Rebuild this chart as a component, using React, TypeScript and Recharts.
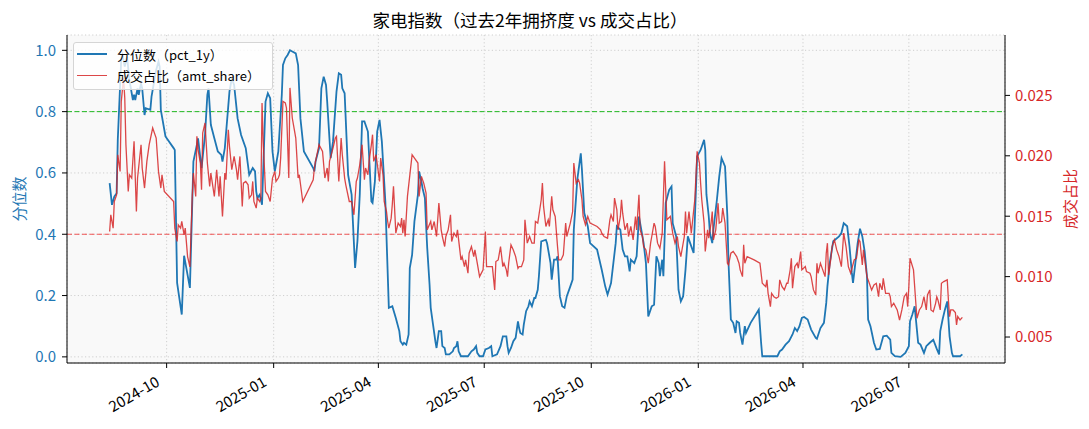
import { LineChart, Line, XAxis, YAxis, CartesianGrid, ReferenceLine } from 'recharts';

// 分位数（pct_1y）—— 日期与数值按月对齐
const pctDates = [
  '2024-08-13','2024-08-15','2024-08-17','2024-08-19','2024-08-20','2024-08-23','2024-08-24','2024-08-26','2024-08-28','2024-08-30',
  '2024-09-02','2024-09-03','2024-09-04','2024-09-06','2024-09-07','2024-09-09','2024-09-10','2024-09-12','2024-09-13','2024-09-17','2024-09-18','2024-09-22','2024-09-24','2024-09-25','2024-09-26','2024-09-30',
  '2024-10-07','2024-10-08','2024-10-10','2024-10-14','2024-10-16','2024-10-21','2024-10-24','2024-10-27','2024-10-28','2024-10-31',
  '2024-11-03','2024-11-05','2024-11-06','2024-11-08','2024-11-11','2024-11-14','2024-11-17','2024-11-18','2024-11-20','2024-11-24','2024-11-26','2024-11-28',
  '2024-12-01','2024-12-04','2024-12-08','2024-12-11','2024-12-14','2024-12-16','2024-12-17','2024-12-18','2024-12-20','2024-12-22','2024-12-25','2024-12-27','2024-12-29','2024-12-31',
  '2025-01-02','2025-01-03','2025-01-05','2025-01-08','2025-01-09','2025-01-11','2025-01-13','2025-01-15','2025-01-17','2025-01-20','2025-01-22','2025-01-24','2025-01-27',
  '2025-02-04','2025-02-05','2025-02-06','2025-02-09','2025-02-11','2025-02-13','2025-02-15','2025-02-16','2025-02-19','2025-02-21','2025-02-24','2025-02-26','2025-02-28',
  '2025-03-01','2025-03-03','2025-03-06','2025-03-07','2025-03-09','2025-03-12','2025-03-14','2025-03-16','2025-03-18','2025-03-20','2025-03-23','2025-03-26','2025-03-27','2025-03-29','2025-03-31',
  '2025-04-02','2025-04-04','2025-04-07','2025-04-10','2025-04-13','2025-04-16','2025-04-19','2025-04-20','2025-04-22','2025-04-23','2025-04-25','2025-04-27','2025-04-28','2025-04-30',
  '2025-05-02','2025-05-05','2025-05-06','2025-05-08','2025-05-09','2025-05-11','2025-05-12','2025-05-13','2025-05-15','2025-05-16','2025-05-18','2025-05-20','2025-05-21','2025-05-23','2025-05-25','2025-05-26','2025-05-28','2025-05-29',
  '2025-06-01','2025-06-04','2025-06-05','2025-06-07','2025-06-08','2025-06-09','2025-06-11','2025-06-17','2025-06-20','2025-06-22','2025-06-24','2025-06-25','2025-06-27','2025-06-30',
  '2025-07-02','2025-07-05','2025-07-07','2025-07-08','2025-07-12','2025-07-15','2025-07-17','2025-07-20','2025-07-21','2025-07-22','2025-07-24','2025-07-26','2025-07-28','2025-07-30','2025-07-31',
  '2025-08-01','2025-08-03','2025-08-04','2025-08-06','2025-08-08','2025-08-09','2025-08-11','2025-08-13','2025-08-14','2025-08-16','2025-08-17','2025-08-19','2025-08-23','2025-08-24','2025-08-27','2025-08-28','2025-08-30',
  '2025-09-01','2025-09-02','2025-09-04','2025-09-06','2025-09-08','2025-09-10','2025-09-13','2025-09-15','2025-09-16','2025-09-19','2025-09-22','2025-09-23','2025-09-25','2025-09-28','2025-09-30',
  '2025-10-06','2025-10-10','2025-10-13','2025-10-15','2025-10-18','2025-10-20','2025-10-22','2025-10-23','2025-10-26','2025-10-28','2025-10-30',
  '2025-11-01','2025-11-03','2025-11-04','2025-11-07','2025-11-09','2025-11-11','2025-11-13','2025-11-15','2025-11-17','2025-11-19','2025-11-21','2025-11-22','2025-11-24','2025-11-26','2025-11-28','2025-11-29',
  '2025-12-01','2025-12-02','2025-12-04','2025-12-07','2025-12-09','2025-12-10','2025-12-13','2025-12-15','2025-12-17','2025-12-19','2025-12-21','2025-12-23','2025-12-25','2025-12-28','2025-12-31',
  '2026-01-03','2026-01-06','2026-01-07','2026-01-08','2026-01-10','2026-01-11','2026-01-13','2026-01-14','2026-01-17','2026-01-19','2026-01-21','2026-01-24','2026-01-26','2026-01-27','2026-01-29','2026-01-31',
  '2026-02-02','2026-02-03','2026-02-05','2026-02-06','2026-02-08','2026-02-10','2026-02-11','2026-02-15','2026-02-22','2026-02-24','2026-02-25',
  '2026-03-10','2026-03-12','2026-03-14','2026-03-17','2026-03-20','2026-03-23','2026-03-25','2026-03-27','2026-03-29','2026-03-31',
  '2026-04-02','2026-04-05','2026-04-08','2026-04-12','2026-04-13','2026-04-16','2026-04-19','2026-04-21','2026-04-22','2026-04-24','2026-04-27',
  '2026-05-02','2026-05-04','2026-05-06','2026-05-09','2026-05-11','2026-05-13','2026-05-14','2026-05-16','2026-05-18','2026-05-20','2026-05-22','2026-05-24','2026-05-26','2026-05-27','2026-05-29',
  '2026-06-01','2026-06-03','2026-06-06','2026-06-09','2026-06-12','2026-06-15','2026-06-16','2026-06-19','2026-06-24','2026-06-28',
  '2026-07-01','2026-07-02','2026-07-04','2026-07-06','2026-07-09','2026-07-11','2026-07-14','2026-07-16','2026-07-19','2026-07-22','2026-07-25','2026-07-27','2026-07-28','2026-07-30',
  '2026-08-01','2026-08-03','2026-08-05','2026-08-07','2026-08-08','2026-08-14','2026-08-16',
];
const pctValues = [
  0.567,0.496,0.523,0.534,0.708,0.974,0.985,0.947,0.979,0.903,
  0.838,0.855,0.838,0.876,0.855,0.892,0.876,0.789,0.811,0.806,0.849,0.936,0.963,0.947,0.806,0.719,
  0.681,0.675,0.241,0.138,0.330,0.225,0.637,0.692,0.713,0.616,
  0.724,0.855,0.876,0.757,0.713,0.670,0.659,0.637,0.681,0.865,0.909,0.887,
  0.778,0.724,0.681,0.594,0.616,0.605,0.540,0.518,0.529,0.496,0.833,0.860,0.844,0.670,
  0.605,0.626,0.670,0.855,0.952,0.974,0.985,1.0,0.996,0.990,0.952,0.778,0.670,
  0.616,0.605,0.637,0.681,0.876,0.914,0.887,0.833,0.648,0.702,0.865,0.925,0.920,
  0.876,0.860,0.594,0.572,0.529,0.290,0.377,0.529,0.768,0.768,0.735,0.507,0.502,0.572,0.735,
  0.773,0.702,0.507,0.160,0.165,0.127,0.084,0.051,0.040,0.046,0.040,0.073,0.290,0.333,
  0.442,0.529,0.605,0.572,0.550,0.518,0.431,0.355,0.236,0.160,0.105,0.051,0.029,0.084,0.084,0.035,0.029,0.008,
  0.008,0.018,0.029,0.035,0.051,0.018,0.002,0.002,0.018,0.024,0.035,0.013,0.002,0.002,
  0.024,0.029,0.035,0.002,0.008,0.035,0.067,0.067,0.035,0.013,0.029,0.051,0.062,0.116,0.094,
  0.078,0.073,0.105,0.149,0.165,0.181,0.165,0.192,0.192,0.219,0.263,0.377,0.382,0.371,0.306,0.252,0.317,
  0.317,0.328,0.198,0.165,0.160,0.198,0.230,0.252,0.415,0.578,0.664,0.610,0.469,0.426,0.371,
  0.350,0.284,0.230,0.203,0.241,0.306,0.371,0.426,0.415,0.350,0.328,
  0.328,0.279,0.317,0.306,0.328,0.458,0.415,0.371,0.306,0.132,0.154,0.165,0.170,0.328,0.306,0.263,
  0.317,0.263,0.502,0.545,0.556,0.436,0.393,0.219,0.181,0.198,0.284,0.393,0.371,0.339,0.654,
  0.675,0.708,0.675,0.530,0.458,0.404,0.371,0.415,0.512,0.588,0.648,0.621,0.458,0.306,0.122,0.111,
  0.078,0.116,0.111,0.078,0.040,0.100,0.078,0.111,0.154,0.046,0.002,
  0.002,0.018,0.024,0.040,0.051,0.073,0.094,0.084,0.100,0.127,
  0.130,0.122,0.089,0.062,0.059,0.094,0.111,0.176,0.230,0.306,0.377,
  0.393,0.404,0.436,0.426,0.360,0.274,0.241,0.306,0.371,0.418,0.393,0.344,0.263,0.122,0.100,
  0.046,0.024,0.026,0.067,0.069,0.056,0.013,0.002,0.000,0.013,
  0.035,0.116,0.138,0.165,0.046,0.040,0.013,0.035,0.046,0.056,0.026,0.008,0.084,0.122,
  0.154,0.181,0.067,0.013,0.002,0.002,0.008,
];

// 成交占比（amt_share）
const shareDates = [
  '2024-08-13','2024-08-14','2024-08-16','2024-08-17','2024-08-19','2024-08-20','2024-08-22','2024-08-23','2024-08-25','2024-08-26','2024-08-27','2024-08-29','2024-08-30',
  '2024-09-01','2024-09-03','2024-09-05','2024-09-06','2024-09-09','2024-09-10','2024-09-12','2024-09-14','2024-09-16','2024-09-19','2024-09-22','2024-09-24','2024-09-26','2024-09-27','2024-09-29',
  '2024-10-07','2024-10-08','2024-10-10','2024-10-11','2024-10-13','2024-10-14','2024-10-16','2024-10-17','2024-10-19','2024-10-21','2024-10-23','2024-10-24','2024-10-26','2024-10-27','2024-10-28','2024-10-30','2024-10-31',
  '2024-11-01','2024-11-03','2024-11-05','2024-11-07','2024-11-08','2024-11-11','2024-11-12','2024-11-13','2024-11-15','2024-11-16','2024-11-18','2024-11-20','2024-11-21','2024-11-23','2024-11-24','2024-11-26','2024-11-28','2024-11-30',
  '2024-12-01','2024-12-03','2024-12-05','2024-12-06','2024-12-08','2024-12-10','2024-12-11','2024-12-13','2024-12-14','2024-12-15','2024-12-17','2024-12-18','2024-12-20','2024-12-21','2024-12-22','2024-12-23','2024-12-25','2024-12-27','2024-12-29','2024-12-31',
  '2025-01-02','2025-01-03','2025-01-05','2025-01-06','2025-01-07','2025-01-09','2025-01-11','2025-01-12','2025-01-14','2025-01-15','2025-01-17','2025-01-19','2025-01-20','2025-01-22','2025-01-23','2025-01-26',
  '2025-02-04','2025-02-05','2025-02-06','2025-02-09','2025-02-12','2025-02-14','2025-02-16','2025-02-17','2025-02-18','2025-02-21','2025-02-23','2025-02-24','2025-02-26','2025-02-28',
  '2025-03-01','2025-03-03','2025-03-04','2025-03-07','2025-03-09','2025-03-11','2025-03-13','2025-03-14','2025-03-16','2025-03-17','2025-03-18','2025-03-20','2025-03-21','2025-03-23','2025-03-24','2025-03-26','2025-03-27','2025-03-28','2025-03-30',
  '2025-04-02','2025-04-03','2025-04-05','2025-04-06','2025-04-08','2025-04-09','2025-04-10','2025-04-12','2025-04-13','2025-04-14','2025-04-16','2025-04-18','2025-04-20','2025-04-21','2025-04-22','2025-04-23','2025-04-24','2025-04-26','2025-04-30',
  '2025-05-05','2025-05-06','2025-05-08','2025-05-10','2025-05-12','2025-05-13','2025-05-16','2025-05-17','2025-05-19','2025-05-21','2025-05-23','2025-05-25','2025-05-26','2025-05-28','2025-05-29','2025-05-31',
  '2025-06-02','2025-06-03','2025-06-05','2025-06-07','2025-06-08','2025-06-10','2025-06-11','2025-06-12','2025-06-14','2025-06-15','2025-06-17','2025-06-18','2025-06-20','2025-06-22','2025-06-23','2025-06-25','2025-06-27','2025-06-30',
  '2025-07-02','2025-07-03','2025-07-05','2025-07-08','2025-07-10','2025-07-11','2025-07-13','2025-07-15','2025-07-17','2025-07-18','2025-07-20','2025-07-21','2025-07-22','2025-07-24','2025-07-26','2025-07-28','2025-07-30','2025-07-31',
  '2025-08-02','2025-08-04','2025-08-05','2025-08-07','2025-08-09','2025-08-11','2025-08-13','2025-08-14','2025-08-16','2025-08-19','2025-08-20','2025-08-21','2025-08-23','2025-08-25','2025-08-26','2025-08-28','2025-08-29','2025-08-31',
  '2025-09-02','2025-09-03','2025-09-05','2025-09-07','2025-09-09','2025-09-10','2025-09-13','2025-09-15','2025-09-16','2025-09-18','2025-09-20','2025-09-21','2025-09-23','2025-09-24','2025-09-26','2025-09-28','2025-09-30',
  '2025-10-06','2025-10-09','2025-10-10','2025-10-12','2025-10-15','2025-10-17','2025-10-18','2025-10-20','2025-10-21','2025-10-23','2025-10-24','2025-10-26','2025-10-27','2025-10-28','2025-10-30',
  '2025-11-01','2025-11-02','2025-11-04','2025-11-06','2025-11-08','2025-11-09','2025-11-11','2025-11-12','2025-11-14','2025-11-15','2025-11-17','2025-11-19','2025-11-21','2025-11-22','2025-11-24','2025-11-25','2025-11-27','2025-11-29',
  '2025-12-01','2025-12-03','2025-12-05','2025-12-08','2025-12-10','2025-12-12','2025-12-14','2025-12-15','2025-12-17','2025-12-20','2025-12-21','2025-12-22','2025-12-24','2025-12-26','2025-12-29','2025-12-31',
  '2026-01-02','2026-01-03','2026-01-04','2026-01-06','2026-01-07','2026-01-09','2026-01-10','2026-01-12','2026-01-13','2026-01-14','2026-01-16','2026-01-18','2026-01-19','2026-01-21','2026-01-22','2026-01-24','2026-01-26','2026-01-27','2026-01-29','2026-01-31',
  '2026-02-03','2026-02-05','2026-02-06','2026-02-08','2026-02-09','2026-02-10','2026-02-12','2026-02-18','2026-02-23','2026-02-25','2026-02-28',
  '2026-03-01','2026-03-02','2026-03-04','2026-03-05','2026-03-07','2026-03-09','2026-03-11','2026-03-12','2026-03-14','2026-03-16','2026-03-18','2026-03-19','2026-03-21','2026-03-22','2026-03-23','2026-03-25','2026-03-27','2026-03-28','2026-03-30','2026-03-31',
  '2026-04-03','2026-04-04','2026-04-07','2026-04-08','2026-04-10','2026-04-12','2026-04-13','2026-04-14','2026-04-16','2026-04-18','2026-04-20','2026-04-21','2026-04-22','2026-04-23','2026-04-25','2026-04-26','2026-04-28','2026-04-30',
  '2026-05-02','2026-05-04','2026-05-06','2026-05-08','2026-05-10','2026-05-12','2026-05-15','2026-05-17','2026-05-19','2026-05-20','2026-05-22','2026-05-23','2026-05-26','2026-05-28','2026-05-30',
  '2026-06-01','2026-06-03','2026-06-05','2026-06-06','2026-06-08','2026-06-09','2026-06-11','2026-06-14','2026-06-15','2026-06-16','2026-06-18','2026-06-21','2026-06-23','2026-06-25','2026-06-27','2026-06-29','2026-06-30',
  '2026-07-01','2026-07-02','2026-07-05','2026-07-07','2026-07-08','2026-07-10','2026-07-12','2026-07-14','2026-07-16','2026-07-17','2026-07-19','2026-07-20','2026-07-22','2026-07-24','2026-07-25','2026-07-26','2026-07-28','2026-07-29','2026-07-31',
  '2026-08-03','2026-08-04','2026-08-05','2026-08-06','2026-08-08','2026-08-10','2026-08-11','2026-08-12','2026-08-14','2026-08-16',
];
const shareValues = [
  0.01373,0.01512,0.01401,0.01622,0.01677,0.02009,0.01871,0.02451,0.02645,0.02479,0.02092,0.01705,0.01843,
  0.01816,0.02120,0.01539,0.01816,0.02092,0.01899,0.01733,0.01954,0.02092,0.02230,0.02147,0.01871,0.01733,0.01843,0.01705,
  0.01622,0.01401,0.01291,0.01429,0.01401,0.01457,0.01346,0.01401,0.01166,0.01080,0.01664,0.01857,0.01664,0.02161,0.02051,0.01940,0.01719,
  0.02189,0.02272,0.01940,0.01747,0.01857,0.01664,0.01774,0.01885,0.01664,0.01830,0.01498,0.01857,0.01802,0.02216,0.02078,0.01885,0.01995,0.01885,
  0.01802,0.01995,0.01581,0.01774,0.01788,0.01760,0.01650,0.01677,0.01788,0.01622,0.01567,0.01650,0.01622,0.01650,0.02438,0.02120,0.01705,0.01677,0.01622,0.01816,
  0.01871,0.01788,0.01816,0.01843,0.01981,0.02451,0.02438,0.02396,0.01816,0.02562,0.02313,0.02203,0.02147,0.01816,0.01843,0.01622,
  0.01802,0.01899,0.01954,0.02092,0.02037,0.01816,0.01899,0.01788,0.01954,0.02064,0.02147,0.02161,0.01788,0.02147,
  0.02009,0.01816,0.01760,0.01622,0.01622,0.01512,0.01788,0.01816,0.01926,0.02009,0.02092,0.01802,0.01899,0.01843,0.01954,0.02092,0.02175,0.01954,0.02009,
  0.01788,0.01981,0.01843,0.01622,0.01539,0.01456,0.01401,0.01484,0.01600,0.01747,0.01360,0.01443,0.01415,0.01484,0.01360,0.01470,0.01332,0.01664,0.02009,
  0.01940,0.01664,0.01830,0.01774,0.01691,0.01387,0.01456,0.01387,0.01456,0.01332,0.01608,0.01387,0.01332,0.01249,0.01332,0.01387,
  0.01512,0.01290,0.01360,0.01332,0.01387,0.01221,0.01138,0.01166,0.01083,0.01138,0.01028,0.01194,0.01249,0.01166,0.01221,0.01111,0.01000,0.01056,
  0.01373,0.01083,0.01083,0.01083,0.00890,0.01125,0.01138,0.01249,0.01083,0.01111,0.01056,0.01000,0.01111,0.01263,0.01221,0.01166,0.01069,0.01083,
  0.01083,0.01138,0.01470,0.01277,0.01332,0.01277,0.01277,0.01456,0.01443,0.01636,0.01774,0.01581,0.01415,0.01470,0.01415,0.01664,0.01553,0.01498,
  0.01249,0.01138,0.01138,0.01180,0.01443,0.01332,0.01443,0.01539,0.01940,0.01774,0.01802,0.01774,0.01636,0.01498,0.01429,0.01498,0.01443,
  0.01415,0.01387,0.01360,0.01332,0.01318,0.01470,0.01512,0.01456,0.01650,0.01553,0.01387,0.01498,0.01636,0.01525,0.01387,
  0.01443,0.01332,0.01415,0.01304,0.01498,0.01387,0.01677,0.01387,0.01332,0.01249,0.01221,0.01111,0.01277,0.01332,0.01443,0.01415,0.01277,0.01235,
  0.01360,0.01954,0.01470,0.01498,0.01360,0.01277,0.01332,0.01249,0.01166,0.01332,0.01539,0.01360,0.01539,0.01360,0.01636,0.02037,
  0.01940,0.01774,0.01636,0.01443,0.01208,0.01387,0.01318,0.01443,0.01539,0.01304,0.01387,0.01608,0.01443,0.01456,0.01567,0.01443,0.01111,0.01097,0.01194,0.01208,
  0.01166,0.01111,0.01056,0.01000,0.01263,0.01111,0.01166,0.01138,0.01111,0.00945,0.00917,
  0.00973,0.00862,0.00752,0.00862,0.00834,0.00821,0.00834,0.00973,0.00917,0.00890,0.00945,0.00945,0.01056,0.01152,0.00904,0.01083,0.01111,0.01069,0.01208,0.01056,
  0.01083,0.01042,0.01028,0.01000,0.00890,0.00848,0.01111,0.01028,0.01111,0.01056,0.01000,0.01194,0.01277,0.01014,0.01152,0.01249,0.01304,0.01221,
  0.01166,0.01083,0.01360,0.01249,0.01083,0.01028,0.01138,0.01152,0.01304,0.01290,0.01097,0.01221,0.01000,0.00945,0.00890,
  0.00931,0.00945,0.00834,0.00945,0.00890,0.00986,0.00862,0.00862,0.00834,0.00752,0.00779,0.00724,0.00641,0.00724,0.00834,0.00862,0.00752,
  0.00917,0.01152,0.01056,0.00779,0.00655,0.00724,0.00752,0.00834,0.00724,0.00848,0.00890,0.00724,0.00710,0.00779,0.00834,0.00807,0.00724,0.00945,0.00959,
  0.00973,0.00807,0.00669,0.00724,0.00724,0.00702,0.00600,0.00669,0.00641,0.00663,
];

const xTickDates = ['2024-10-01', '2025-01-01', '2025-04-01', '2025-07-01', '2025-10-01', '2026-01-01', '2026-04-01', '2026-07-01'];
const pctTicks = [0, 0.2, 0.4, 0.6, 0.8, 1.0];
const shareTicks = [0.005, 0.01, 0.015, 0.02, 0.025];
const HIGH_LEVEL = 0.8;
const LOW_LEVEL = 0.4;

const BLUE = '#1f77b4';
const RED = '#d62728';
const FONT = "'Noto Sans CJK SC', 'Noto Sans', sans-serif";

const toTime = (d: string) => Date.parse(d + 'T00:00:00Z');

const pctData = pctDates.map((d, i) => ({ t: toTime(d), pct: pctValues[i] }));
const shareData = shareDates.map((d, i) => ({ t: toTime(d), share: shareValues[i] }));
const xTicks = xTickDates.map(toTime);

// matplotlib 式的 5% 左右留白
const tMin = Math.min(pctData[0].t, shareData[0].t);
const tMax = Math.max(pctData[pctData.length - 1].t, shareData[shareData.length - 1].t);
const pad = (tMax - tMin) * 0.05;
const xDomain = [tMin - pad, tMax + pad];

const fmtMonth = (v: number) => {
  const d = new Date(v);
  return `${d.getUTCFullYear()}-${String(d.getUTCMonth() + 1).padStart(2, '0')}`;
};

function XTick(props: any) {
  const { x, y, payload } = props;
  const px = x - 6;
  const py = y + 15;
  return (
    <text x={px} y={py} transform={`rotate(-30 ${px} ${py})`} textAnchor="end" fontSize={15} fill="#000">
      {fmtMonth(payload.value)}
    </text>
  );
}

const legendItems = [
  { label: '分位数（pct_1y）', color: BLUE, width: 1.8, opacity: 1 },
  { label: '成交占比（amt_share）', color: RED, width: 1.3, opacity: 0.85 },
];

export default function App() {
  return (
    <div style={{ position: 'relative', width: 1073, height: 413, fontFamily: FONT, background: '#fff' }}>
      <LineChart width={1073} height={413} margin={{ top: 27, right: 0, bottom: 0, left: 0 }}>
        <CartesianGrid
          xAxisId="bottom"
          yAxisId="left"
          fill="#f9f9f9"
          stroke="#cfcfcf"
          strokeDasharray="1.2 2.4"
        />
        <XAxis
          xAxisId="bottom"
          dataKey="t"
          type="number"
          domain={xDomain}
          allowDataOverflow
          ticks={xTicks}
          interval={0}
          height={58}
          tickSize={5}
          tick={<XTick />}
          axisLine={{ stroke: '#000' }}
          tickLine={{ stroke: '#000' }}
        />
        <XAxis
          xAxisId="top"
          orientation="top"
          dataKey="t"
          type="number"
          domain={xDomain}
          allowDataOverflow
          height={0}
          tick={false}
          tickLine={false}
          axisLine={{ stroke: '#000' }}
        />
        <YAxis
          yAxisId="left"
          width={59}
          domain={[-0.02, 1.05]}
          allowDataOverflow
          ticks={pctTicks}
          interval={0}
          tickSize={5}
          tickMargin={6}
          tickFormatter={(v: number) => v.toFixed(1)}
          tick={{ fill: BLUE, fontSize: 15 }}
          axisLine={{ stroke: '#000' }}
          tickLine={{ stroke: '#000' }}
        />
        <YAxis
          yAxisId="right"
          orientation="right"
          width={76}
          domain={[0.00285, 0.03]}
          allowDataOverflow
          ticks={shareTicks}
          interval={0}
          tickSize={5}
          tickMargin={5}
          tickFormatter={(v: number) => v.toFixed(3)}
          tick={{ fill: RED, fontSize: 15 }}
          axisLine={{ stroke: '#000' }}
          tickLine={{ stroke: '#000' }}
        />
        <ReferenceLine xAxisId="bottom" yAxisId="left" y={HIGH_LEVEL} stroke="#22b822" strokeDasharray="5 2.5" />
        <ReferenceLine xAxisId="bottom" yAxisId="left" y={LOW_LEVEL} stroke="#f03a3a" strokeOpacity={0.85} strokeDasharray="5 2.5" />
        <Line
          xAxisId="bottom"
          yAxisId="left"
          data={pctData}
          dataKey="pct"
          type="linear"
          stroke={BLUE}
          strokeWidth={1.8}
          dot={false}
          activeDot={false}
          isAnimationActive={false}
        />
        <Line
          xAxisId="bottom"
          yAxisId="right"
          data={shareData}
          dataKey="share"
          type="linear"
          stroke={RED}
          strokeOpacity={0.85}
          strokeWidth={1.3}
          dot={false}
          activeDot={false}
          isAnimationActive={false}
        />
      </LineChart>

      {/* 标题 */}
      <div style={{ position: 'absolute', left: 50, width: 944, top: 1, textAlign: 'center', fontSize: 17.5, lineHeight: '21px', color: '#000', whiteSpace: 'nowrap' }}>
        家电指数（过去2年拥挤度 vs 成交占比）
      </div>

      {/* 轴标题 */}
      <div style={{ position: 'absolute', left: 10, top: 191, transform: 'translate(-50%, -50%) rotate(-90deg)', fontSize: 15, color: BLUE, whiteSpace: 'nowrap' }}>
        分位数
      </div>
      <div style={{ position: 'absolute', left: 1061, top: 191, transform: 'translate(-50%, -50%) rotate(-90deg)', fontSize: 15, color: RED, whiteSpace: 'nowrap' }}>
        成交占比
      </div>

      {/* 图例 */}
      <div style={{ position: 'absolute', left: 64.7, top: 33.7, width: 200, height: 48, boxSizing: 'border-box', border: '1px solid #d5d5d5', borderRadius: 3, background: 'rgba(255,255,255,0.8)' }}>
        {legendItems.map((item, i) => (
          <div key={item.label} style={{ position: 'absolute', left: 3.3, top: 0.5 + i * 21.7, height: 21.7, display: 'flex', alignItems: 'center' }}>
            <span style={{ display: 'inline-block', width: 30, height: Math.round(item.width), background: item.color, opacity: item.opacity }} />
            <span style={{ marginLeft: 10, fontSize: 13, color: '#000', whiteSpace: 'nowrap' }}>{item.label}</span>
          </div>
        ))}
      </div>
    </div>
  );
}
